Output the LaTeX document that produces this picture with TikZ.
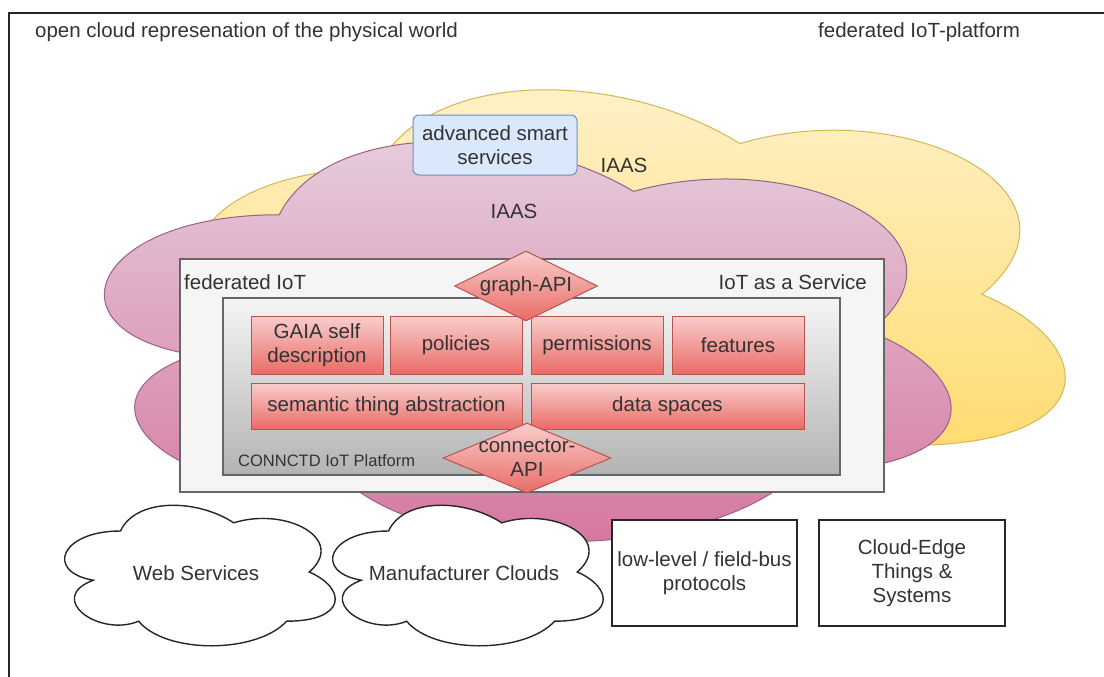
\documentclass[tikz,border=0pt]{standalone}
\usepackage{fontspec}
\setmainfont{Liberation Sans}
\usetikzlibrary{shapes.geometric}
\definecolor{txt}{HTML}{333333}
\definecolor{yeltop}{HTML}{FFF2CC}
\definecolor{yelbot}{HTML}{FFD966}
\definecolor{yelstroke}{HTML}{D6B656}
\definecolor{pinktop}{HTML}{E6D0DE}
\definecolor{pinkbot}{HTML}{D5739D}
\definecolor{pinkstroke}{HTML}{996185}
\definecolor{redtop}{HTML}{F8CECC}
\definecolor{redbot}{HTML}{EA6B66}
\definecolor{redstroke}{HTML}{B85450}
\definecolor{graytop}{HTML}{F5F5F5}
\definecolor{graybot}{HTML}{B3B3B3}
\definecolor{graystroke}{HTML}{666666}
\definecolor{bluefill}{HTML}{DAE8FC}
\definecolor{bluestroke}{HTML}{6C8EBF}
% draw.io cloud outline: [#1 bottom bulge factor], #2 options, #3 x0, #4 y0, #5 w, #6 h
\newcommand\dcloud[6][1]{%
 \path[#2] ({#3+0.25*#5},{#4+0.25*#6})
 .. controls ({#3+0.05*#5},{#4+0.25*#6}) and ({#3},{#4+0.5*#6}) .. ({#3+0.16*#5},{#4+0.55*#6})
 .. controls ({#3},{#4+0.66*#6}) and ({#3+0.18*#5},{#4+0.9*#6}) .. ({#3+0.31*#5},{#4+0.8*#6})
 .. controls ({#3+0.4*#5},{#4+#1*#6}) and ({#3+0.7*#5},{#4+#1*#6}) .. ({#3+0.8*#5},{#4+0.8*#6})
 .. controls ({#3+#5},{#4+0.8*#6}) and ({#3+#5},{#4+0.6*#6}) .. ({#3+0.875*#5},{#4+0.5*#6})
 .. controls ({#3+#5},{#4+0.3*#6}) and ({#3+0.8*#5},{#4+0.1*#6}) .. ({#3+0.625*#5},{#4+0.2*#6})
 .. controls ({#3+0.5*#5},{#4+0.05*#6}) and ({#3+0.3*#5},{#4+0.05*#6}) .. ({#3+0.25*#5},{#4+0.25*#6})
 -- cycle;}
\tikzset{
 lbl/.style={text=txt, align=center, inner sep=0pt},
 redbox/.style={lbl, rectangle, draw=redstroke, top color=redtop, bottom color=redbot, line width=1pt},
 reddiamond/.style={diamond, draw=redstroke, top color=redtop, bottom color=redbot, line width=1pt, inner sep=0pt},
 bluebox/.style={lbl, rectangle, rounded corners=6pt, draw=bluestroke, fill=bluefill, line width=1pt},
 wbox/.style={lbl, rectangle, draw=black!85, fill=white, line width=1.4pt},
 wcloud/.style={draw=black!85, fill=white, line width=1.4pt},
 yelcloud/.style={draw=yelstroke, top color=yeltop, bottom color=yelbot, line width=1pt},
 pinkcloud/.style={draw=pinkstroke, top color=pinktop, bottom color=pinkbot, line width=1pt},
 fedbox/.style={lbl, rectangle, draw=graystroke, fill=graytop, line width=1.2pt},
 platbox/.style={lbl, rectangle, draw=graystroke, top color=graytop, bottom color=graybot, line width=1.2pt},
}
\begin{document}
\begin{tikzpicture}[x=1pt,y=-1pt, font=\fontsize{20.5}{24}\selectfont]
\useasboundingbox[fill=white] (0,0) rectangle (1104,677);
% frame
\coordinate (fbl) at (9,690);
\coordinate (ftl) at (9,13);
\coordinate (ftr) at (1120,13);
\draw[line width=1.8pt, black!85] (fbl) -- (ftl) -- (ftr);
% titles
\node[lbl, anchor=west] (title1) at (35,32) {open cloud represenation of the physical world};
\node[lbl, anchor=west] (title2) at (818,32) {federated IoT-platform};
% background clouds
\dcloud[0.84]{yelcloud}{135}{43}{968}{503}
\dcloud{pinkcloud}{43}{98}{945}{467}
% service box and labels
\node[bluebox, minimum width=164, minimum height=60] (adv) at (495,145) {advanced smart\\services};
\node[lbl] (iaas1) at (514,211) {IAAS};
\node[lbl] (iaas2) at (624,165) {IAAS};
% federated IoT box
\node[fedbox, minimum width=704, minimum height=233] (fed) at (532,375.5) {};
\node[lbl, anchor=west] (fedlbl) at (184,282) {federated IoT};
\node[lbl, anchor=east] (iotaas) at (867,282) {IoT as a Service};
% platform box
\node[platbox, minimum width=617, minimum height=177] (plat) at (531.5,386.5) {};
\node[lbl, anchor=west, font=\fontsize{16.5}{20}\selectfont] (platlbl) at (238,461) {CONNCTD IoT Platform};
% red boxes
\node[redbox, minimum width=132, minimum height=58] (gaia) at (317,345) {GAIA self\\description};
\node[redbox, minimum width=132, minimum height=58] (pol) at (456,345) {policies};
\node[redbox, minimum width=132, minimum height=58] (perm) at (597,345) {permissions};
\node[redbox, minimum width=132, minimum height=58] (feat) at (738,345) {features};
\node[redbox, minimum width=271, minimum height=46] (sem) at (386.5,406) {semantic thing abstraction};
\node[redbox, minimum width=273, minimum height=46] (data) at (667.5,406) {data spaces};
% APIs
\node[reddiamond, minimum width=143, minimum height=70] (gapi) at (526,286) {};
\node[lbl] (gapilbl) at (gapi.center) {graph-API};
\node[reddiamond, minimum width=168, minimum height=70] (capi) at (527,458) {};
\node[lbl] (capilbl) at (capi.center) {connector-\\API};
% bottom row
\dcloud{wcloud}{45}{490}{302}{164}
\node[lbl] (web) at (196,573) {Web Services};
\dcloud{wcloud}{313}{490}{302}{164}
\node[lbl] (manu) at (464,573) {Manufacturer Clouds};
\node[wbox, minimum width=185, minimum height=106] (low) at (704.5,573) {low-level / field-bus\\protocols};
\node[wbox, minimum width=186, minimum height=106] (edge) at (912,573) {Cloud-Edge\\Things \&\\Systems};
\end{tikzpicture}
\end{document}
